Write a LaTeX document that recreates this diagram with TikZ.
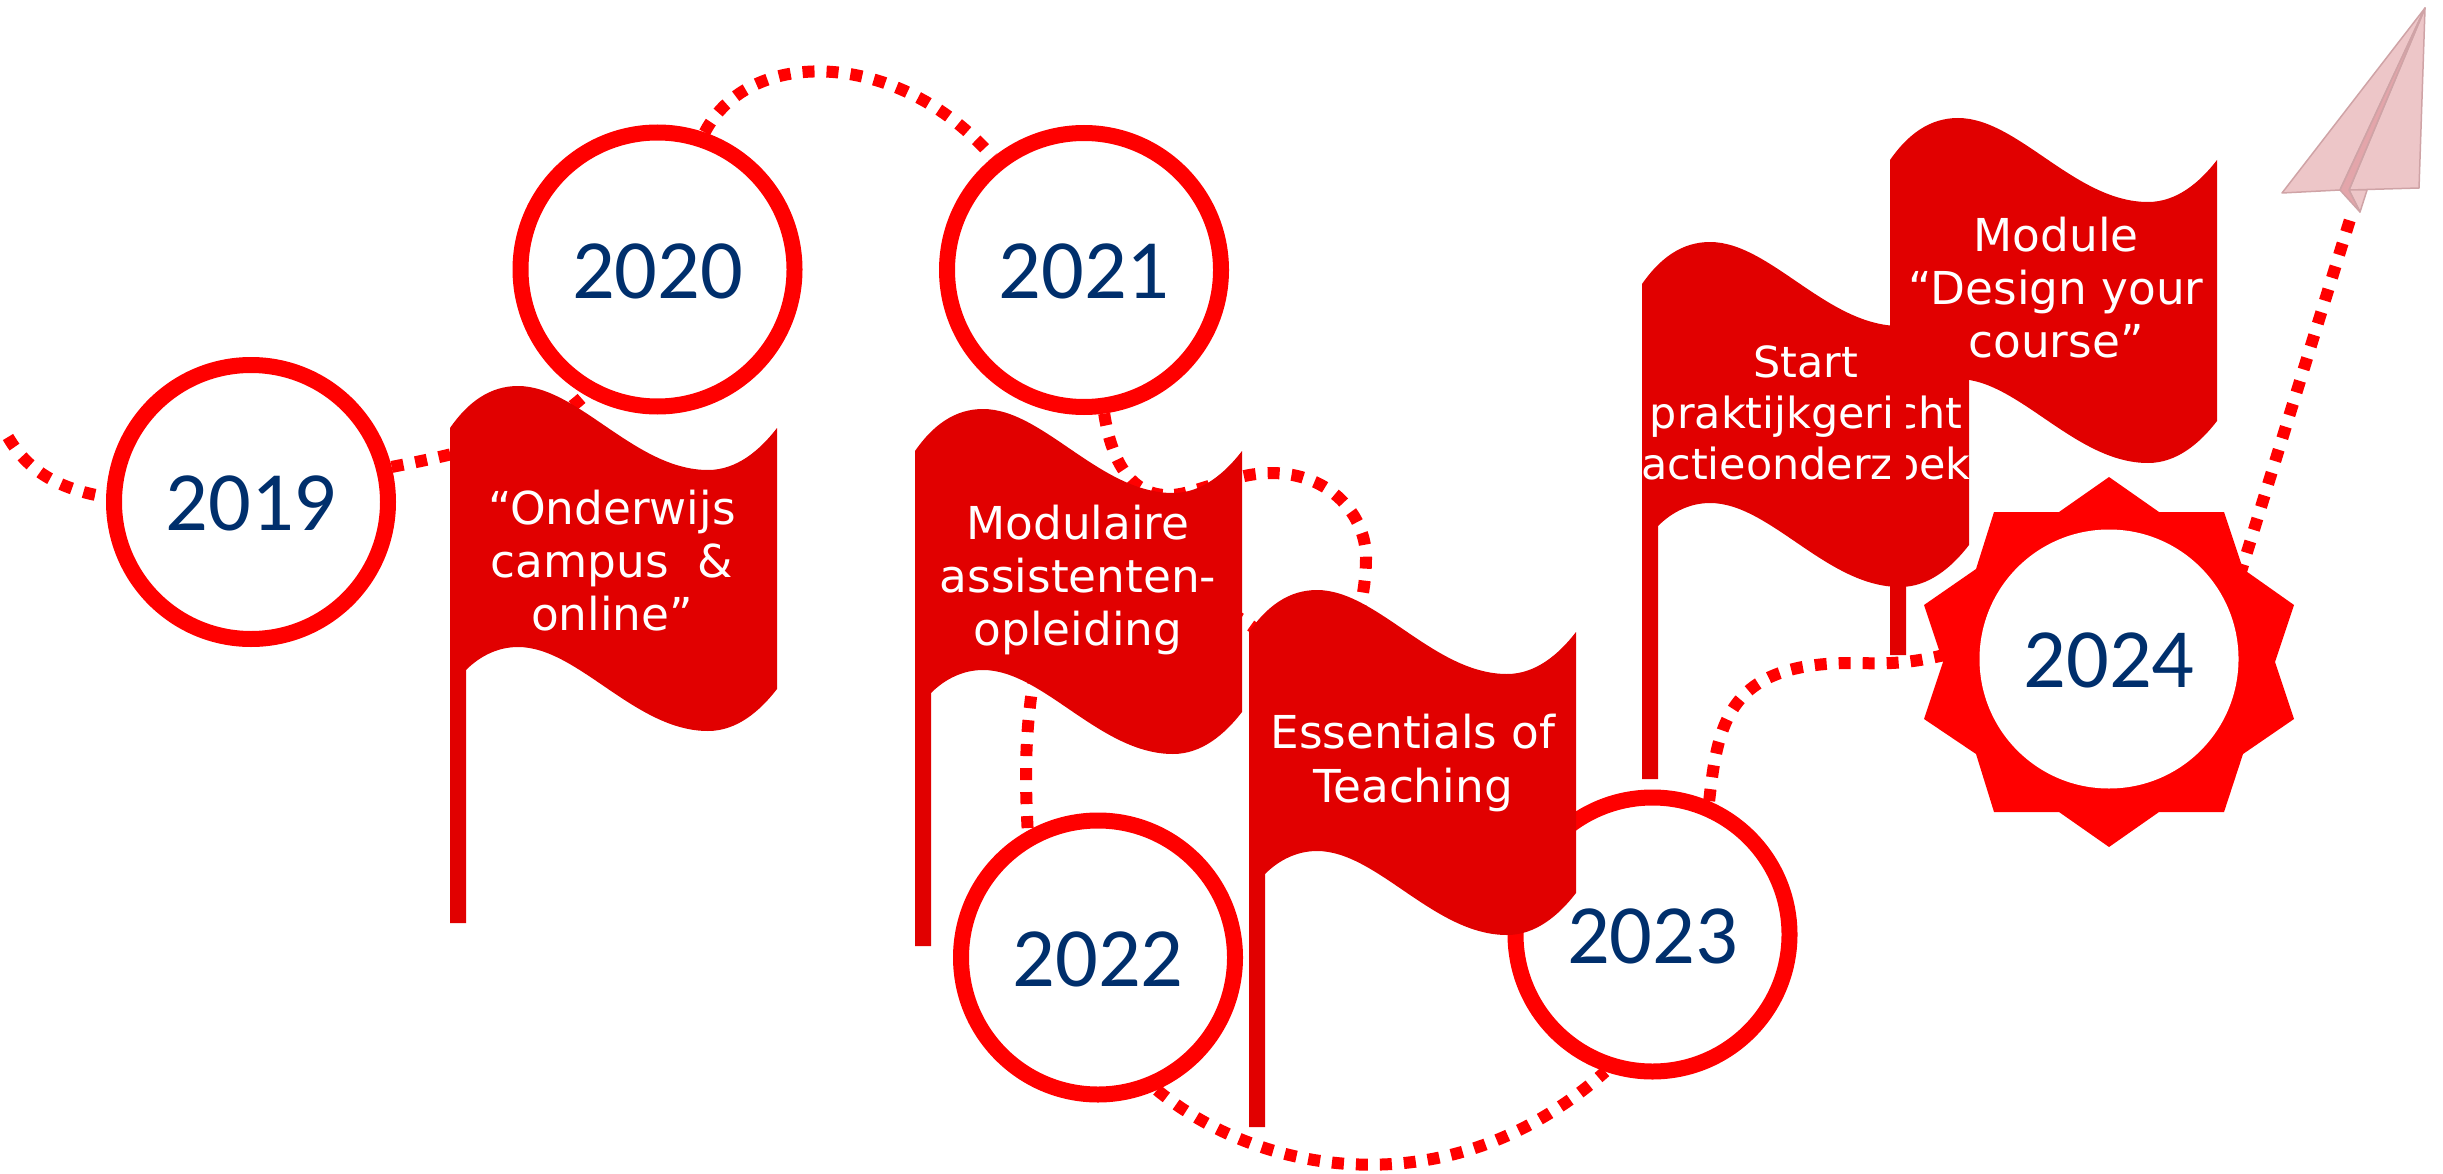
\documentclass[tikz,border=0pt]{standalone}
\usepackage{fontspec}
\setmainfont{DejaVu Sans}
\newfontfamily\yearfont{Carlito}
\usetikzlibrary{backgrounds}
\definecolor{ringred}{HTML}{FF0000}
\definecolor{flagred}{HTML}{E10000}
\definecolor{yearblue}{HTML}{002F6C}
\definecolor{planelight}{HTML}{EDC6C8}
\definecolor{planedark}{HTML}{E3A5AA}
\definecolor{planeedge}{HTML}{CFA3A6}
\tikzset{
  year/.style={circle,draw=ringred,line width=1.6mm,fill=white,minimum size=27.4mm,inner sep=0pt,
    text=yearblue,text height=16.6pt,font=\yearfont\fontsize{24}{26}\selectfont},
  flagtext/.style={text=white,align=center,inner sep=0pt,font=\fontsize{12.9}{15.1}\selectfont},
  dotline/.style={ringred,line width=1.2mm,dash pattern=on 1.2mm off 1.2mm},
  planepart/.style={draw=planeedge,line width=0.15mm,line join=round},
  pics/flagshape/.style={code={
    \fill[flagred] (0,0) .. controls (18,-26) and (40,-42) .. (68,-42)
      .. controls (128,-42) and (185,42) .. (258,42)
      .. controls (287,42) and (310,22) .. (327,0) -- (327,261)
      .. controls (310,283) and (287,303) .. (258,303)
      .. controls (185,303) and (128,219) .. (68,219)
      .. controls (48,219) and (30,228) .. (16,242) -- (16,495) -- (0,495) -- cycle;
  }}
}
\begin{document}
\begin{tikzpicture}[x=0.1mm,y=-0.1mm]
\useasboundingbox (0,0) rectangle (2443,1174);

\node[year] (y2019) at (251,502) {2019};
\node[year] (y2020) at (657.5,269.5) {2020};
\node[year] (y2021) at (1084,270) {2021};
\node[year] (y2022) at (1098,957.5) {2022};
\node[year] (y2023) at (1652.5,934.5) {2023};

\fill[ringred] (2109,477) -- (2159,512) -- (2224,512) -- (2243,569) -- (2294,605) -- (2275,662)
  -- (2294,719) -- (2243,754) -- (2224,812) -- (2159,812) -- (2109,847) -- (2059,812)
  -- (1994,812) -- (1976,754) -- (1924,719) -- (1943,662) -- (1924,605) -- (1976,569)
  -- (1994,512) -- (2059,512) -- cycle;
\node[year,draw=none,minimum size=25.9mm] (y2024) at (2109,659) {2024};

\coordinate (tail) at (8,437);
\coordinate (planetail) at (2352,213);

\begin{scope}[on background layer]
\draw[dotline] (tail) .. controls (30,475) and (65,490) .. (y2019.178);
\draw[dotline] (y2019.14) .. controls (480,450) and (550,430) .. (y2020.-120);
\draw[dotline] (y2020.71) .. controls (750,45) and (900,50) .. (y2021.129);
\draw[dotline] (y2021.-82) .. controls (1112,465) and (1135,505) .. (1185,493)
  .. controls (1210,487) and (1240,473) .. (1271,473)
  .. controls (1330,473) and (1366,515) .. (1366,558)
  .. controls (1366,600) and (1350,680) .. (1300,660)
  .. controls (1280,650) and (1265,635) .. (1247,623)
  .. controls (1170,570) and (1045,600) .. (1032,690)
  .. controls (1025,740) and (1025,780) .. (y2022.119);
\draw[dotline] (y2022.-66) .. controls (1260,1175) and (1450,1210) .. (y2023.-109);
\draw[dotline] (y2023.67) .. controls (1718,720) and (1730,663) .. (1852,663)
  .. controls (1880,663) and (1910,667) .. (y2024.175);
\draw[dotline] (y2024.26) -- (planetail);
\end{scope}

\pic at (450,428) {flagshape};
\node[flagtext] (onderwijs) at (612,561) {“Onderwijs\\campus~~\&\\online”};
\pic at (915,451) {flagshape};
\node[flagtext] (assistent) at (1078,580) {Modulaire\\assistenten-\\opleiding};
\pic at (1249,632) {flagshape};
\node[flagtext] (essentials) at (1413,763) {Essentials of\\Teaching};
\pic at (1642,284) {flagshape};
\node[flagtext,font=\fontsize{12.2}{14.6}\selectfont] (praktijk) at (1806,413) {Start\\praktijkgericht\\actieonderzoek};
\pic at (1890,160) {flagshape};
\node[flagtext] (design) at (2056,288) {Module\\“Design your\\course”};

% paper plane
\path[planepart,fill=planelight] (2425,8) -- (2282,193) -- (2340,190) -- cycle;
\path[planepart,fill=planelight] (2425,8) -- (2419,188) -- (2349,190) -- cycle;
\path[planepart,fill=planelight] (2349,190) -- (2360,212) -- (2367,190) -- cycle;
\path[planepart,fill=planedark] (2425,8) -- (2340,190) -- (2360,212) -- (2349,190) -- cycle;
\end{tikzpicture}
\end{document}
